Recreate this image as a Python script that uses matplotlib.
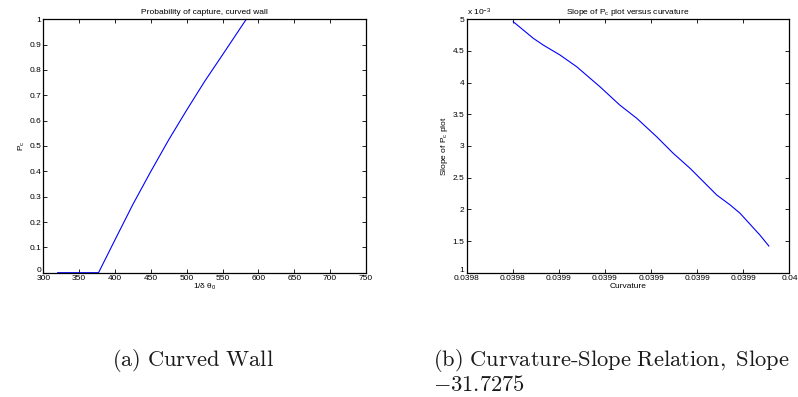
import matplotlib
matplotlib.use("Agg")
import matplotlib.pyplot as plt
import matplotlib.transforms as mtransforms

plt.rcParams['font.family'] = ['Liberation Sans', 'DejaVu Sans']
plt.rcParams['mathtext.fontset'] = 'custom'
plt.rcParams['mathtext.rm'] = 'Liberation Sans'
plt.rcParams['mathtext.it'] = 'Liberation Sans'

# (a) probability of capture vs 1/(delta theta_0)
inv_dtheta = [320, 377, 400, 425, 450, 475, 500, 525, 550, 583, 715]
p_capture = [0.0, 0.0, 0.13, 0.27, 0.40, 0.525, 0.642, 0.755, 0.86, 1.0, 1.0]

# (b) slope of P_c plot vs curvature
curvature = [0.0398402, 0.0398489, 0.0398532, 0.0398605, 0.0398677, 0.0398778,
             0.0398864, 0.0398938, 0.0399024, 0.0399096, 0.0399169, 0.0399285,
             0.0399343, 0.0399386, 0.0399472, 0.0399511]
slope = [4.962e-3, 4.70e-3, 4.594e-3, 4.436e-3, 4.252e-3, 3.936e-3,
         3.647e-3, 3.437e-3, 3.147e-3, 2.885e-3, 2.648e-3, 2.226e-3,
         2.07e-3, 1.938e-3, 1.595e-3, 1.421e-3]

xticks_b = [0.03982, 0.03984, 0.03986, 0.03988, 0.03990, 0.03992, 0.03994, 0.03996]
xlabels_b = ["0.0398", "0.0398", "0.0399", "0.0399", "0.0399", "0.0399", "0.0399", "0.04"]
yticks_b = [1, 1.5, 2, 2.5, 3, 3.5, 4, 4.5, 5]

FS = 6

fig = plt.figure(figsize=(7.98, 3.97), dpi=100)


def style(ax):
    ax.tick_params(direction='in', top=True, right=True, length=3, width=0.6,
                   labelsize=FS, pad=1.5)
    for s in ax.spines.values():
        s.set_linewidth(0.9)


def lift_first_ylabel(ax):
    # MATLAB puts the bottom y label a bit above the x labels
    lab = ax.get_yticklabels()[0]
    off = mtransforms.ScaledTranslation(0, 2.5 / 72, fig.dpi_scale_trans)
    lab.set_transform(lab.get_transform() + off)


# left panel
ax1 = fig.add_axes([0.0543, 0.3131, 0.4043, 0.6383])
ax1.plot(inv_dtheta, p_capture, color='blue', lw=0.8)
ax1.set_xlim(300, 750)
ax1.set_ylim(0, 1)
ax1.set_xticks(range(300, 751, 50))
ax1.set_yticks([i / 10 for i in range(11)])
ax1.set_yticklabels(["0"] + ["0.%d" % i for i in range(1, 10)] + ["1"])
style(ax1)
lift_first_ylabel(ax1)
ax1.set_title("Probability of capture, curved wall", fontsize=FS, pad=4)
ax1.set_xlabel(r"1/$\delta$ $\theta_0$", fontsize=FS, labelpad=0)
ax1.set_ylabel(r"P$_\mathrm{c}$", fontsize=FS, labelpad=2)

# right panel
ax2 = fig.add_axes([0.5848, 0.3131, 0.4044, 0.6383])
ax2.plot(curvature, [v / 1e-3 for v in slope], color='blue', lw=0.8)
ax2.set_xlim(xticks_b[0], xticks_b[-1])
ax2.set_ylim(1, 5)
ax2.set_xticks(xticks_b)
ax2.set_xticklabels(xlabels_b)
ax2.set_yticks(yticks_b)
ax2.set_yticklabels(["%g" % v for v in yticks_b])
style(ax2)
lift_first_ylabel(ax2)
ax2.set_title(r"Slope of P$_\mathrm{c}$ plot versus curvature", fontsize=FS, pad=4)
ax2.set_xlabel("Curvature", fontsize=FS, labelpad=1)
ax2.set_ylabel(r"Slope of P$_\mathrm{c}$ plot", fontsize=FS, labelpad=2)
ax2.text(0.0, 1.005, r"x 10$^{-3}$", transform=ax2.transAxes, fontsize=FS,
         ha='left', va='bottom')

# captions
cap = dict(family='serif', fontsize=16.2, color='#1a1a1a')
plt.rcParams['mathtext.fontset'] = 'cm'
fig.text(112 / 798, 1 - 366 / 397, r"$\mathrm{(a)\ Curved\ Wall}$", ha='left', va='baseline', **cap)
fig.text(433 / 798, 1 - 366 / 397, r"$\mathrm{(b)\ Curvature\text{-}Slope\ Relation,\ Slope}$",
         ha='left', va='baseline', **cap)
fig.text(433 / 798, 1 - 391 / 397, r"$-\mathrm{31.7275}$", ha='left', va='baseline', **cap)

fig.savefig("out.png", dpi=100)
